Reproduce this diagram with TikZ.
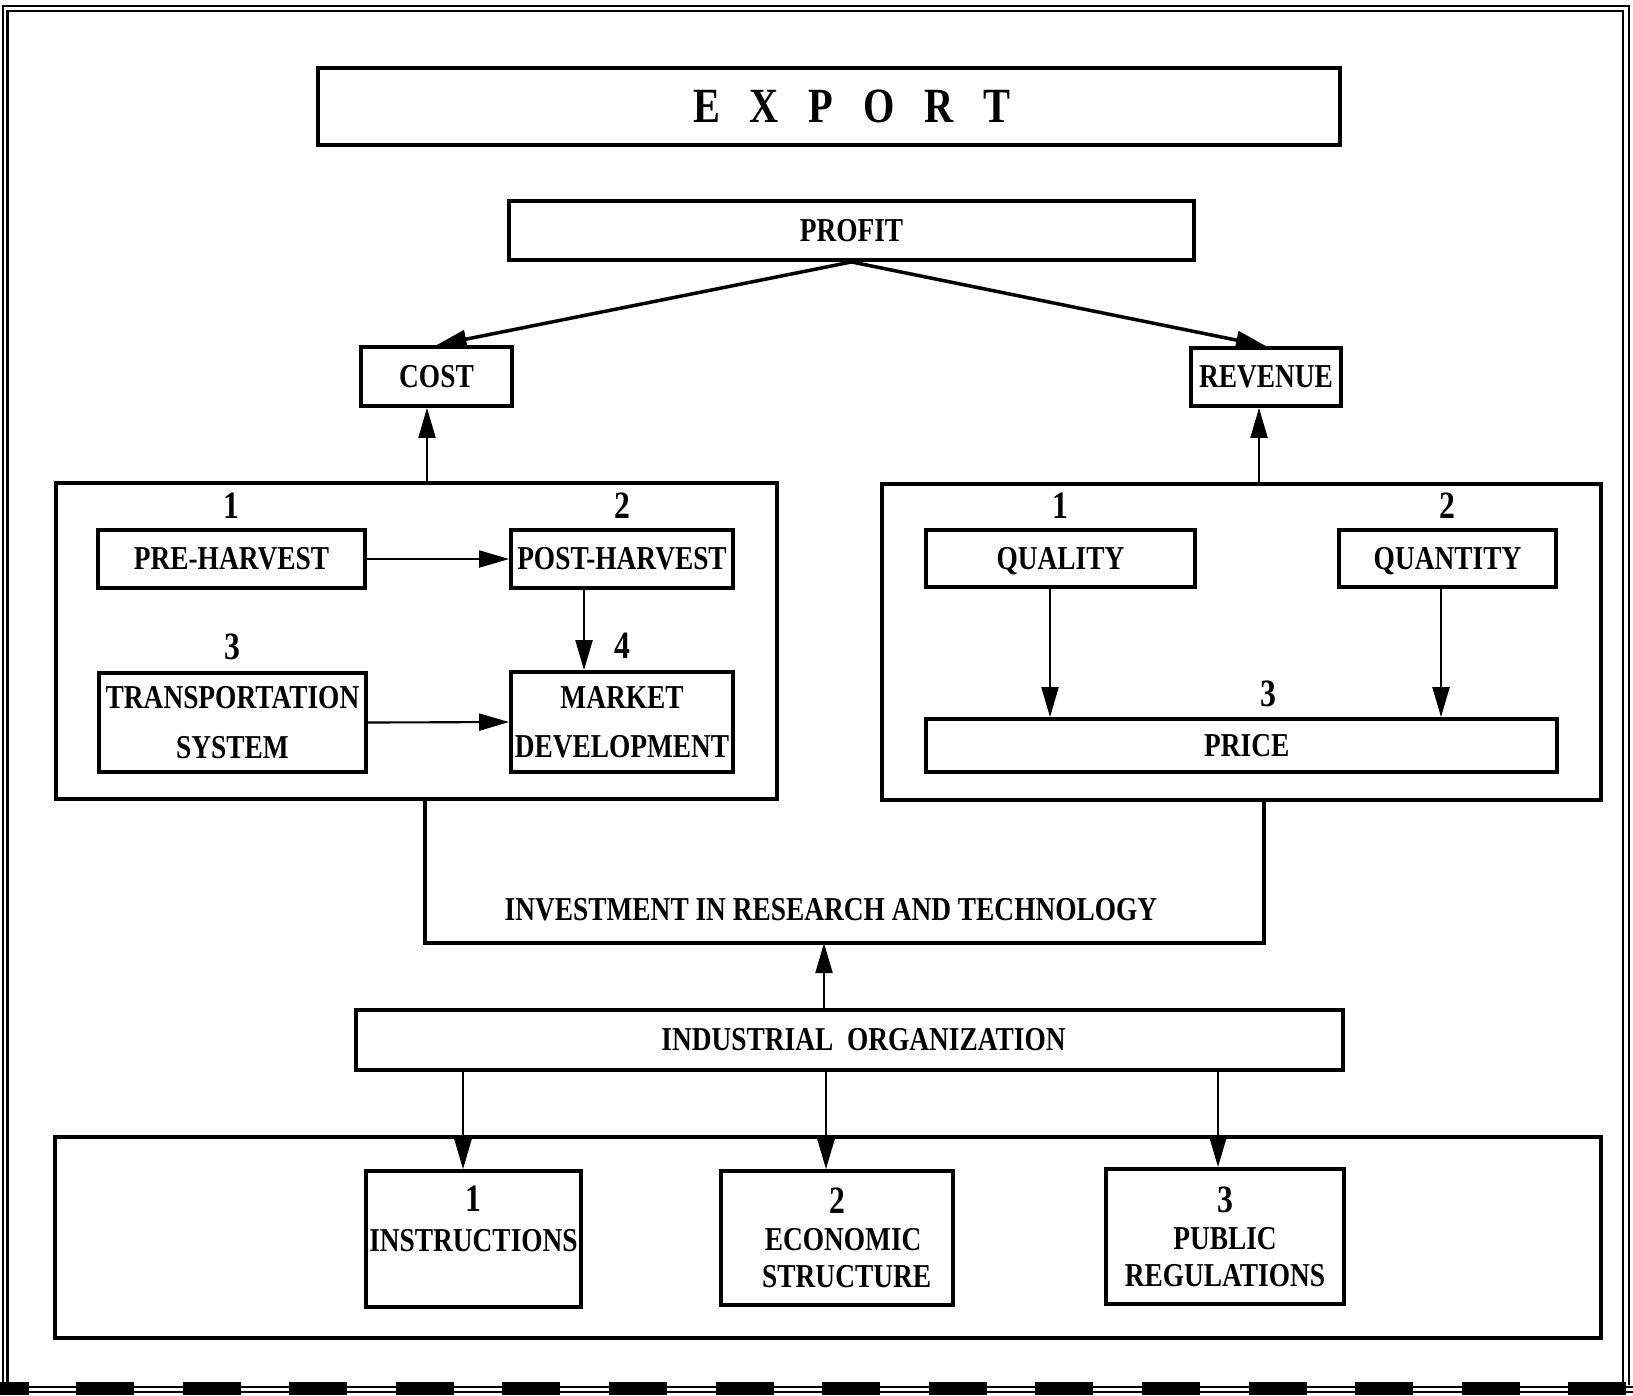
\documentclass[tikz,border=0pt]{standalone}
\usepackage{fontspec}
\setmainfont{Liberation Serif}[FakeStretch=0.82]
\usetikzlibrary{arrows.meta,positioning}
\newcommand{\boxtxt}{\fontsize{9.5}{10.5}\selectfont\bfseries}
\newcommand{\numtxt}{\fontsize{11}{12}\selectfont\bfseries}
\newcommand{\titletxt}{\fontsize{14}{16}\selectfont\bfseries}
\begin{document}
\begin{tikzpicture}[x=0.1mm,y=-0.1mm,
  box/.style={draw=black, line width=1.1pt, inner sep=0pt, align=center, font=\boxtxt},
  num/.style={inner sep=0pt, font=\numtxt},
  arr/.style={line width=0.6pt, -{Triangle[length=3mm,width=1.7mm]}},
  thickarr/.style={line width=1pt, -{Triangle[length=3mm,width=1.8mm]}}]
\useasboundingbox (0,0) rectangle (1633,1395);
\draw [line width=0.6pt] (3,1385) -- (3,6) -- (1629,6) -- (1629,1385);
\draw [line width=0.6pt] (7.5,1385) -- (7.5,11) -- (1623,11) -- (1623,1385);
\draw [line width=0.5pt] (0,1387) -- (1633,1387);
\draw [line width=0.5pt] (0,1392) -- (1633,1392);
\fill (0,1382) rectangle (29,1395);
\fill (76,1382) rectangle (134,1395);
\fill (182.6,1382) rectangle (240.6,1395);
\fill (289.2,1382) rectangle (347.2,1395);
\fill (395.8,1382) rectangle (453.8,1395);
\fill (502.4,1382) rectangle (560.4,1395);
\fill (609,1382) rectangle (667,1395);
\fill (715.6,1382) rectangle (773.6,1395);
\fill (822.2,1382) rectangle (880.2,1395);
\fill (928.8,1382) rectangle (986.8,1395);
\fill (1035.4,1382) rectangle (1093.4,1395);
\fill (1142,1382) rectangle (1200,1395);
\fill (1248.6,1382) rectangle (1306.6,1395);
\fill (1355.2,1382) rectangle (1413.2,1395);
\fill (1461.8,1382) rectangle (1519.8,1395);
\fill (1568.4,1382) rectangle (1626.4,1395);

\node [box, minimum width=102.2mm, minimum height=7.7mm] (export) at (829,106.5)
  {\titletxt\hspace{13pt}E\hspace{8.5pt}X\hspace{8.5pt}P\hspace{8.5pt}O\hspace{8.5pt}R\hspace{8.5pt}T};
\node [box, minimum width=68.5mm, minimum height=5.9mm] (profit) at (851.5,230.5) {PROFIT};
\node [box, minimum width=15.1mm, minimum height=5.9mm] (cost) at (436.5,376.5) {COST};
\node [box, minimum width=15mm, minimum height=5.8mm] (revenue) at (1266,377) {REVENUE};

\node [box, minimum width=72.1mm, minimum height=31.6mm] (costgrp) at (416.5,641) {};
\node [box, minimum width=71.9mm, minimum height=31.6mm] (revgrp) at (1241.5,642) {};

\node [box, minimum width=26.7mm, minimum height=5.8mm] (pre) at (231.5,559) {PRE-HARVEST};
\node [box, minimum width=22.2mm, minimum height=5.8mm] (post) at (622,559) {POST-HARVEST};
\node [box, minimum width=26.7mm, minimum height=9.9mm] (transp) at (232.5,722.5) {TRANSPORTATION\\[3.5pt]SYSTEM};
\node [box, minimum width=22.2mm, minimum height=10mm] (market) at (622,722) {MARKET\\[3.5pt]DEVELOPMENT};
\node [num, above=0.9mm of pre] (pre-n) {1};
\node [num, above=0.9mm of post] (post-n) {2};
\node [num, above=1.1mm of transp] (transp-n) {3};
\node [num, above=1.1mm of market] (market-n) {4};

\node [box, minimum width=26.9mm, minimum height=5.7mm, text depth=0pt] (quality) at (1060.5,558.5) {QUALITY};
\node [box, minimum width=21.7mm, minimum height=5.7mm, text depth=0pt] (quantity) at (1447.5,558.5) {QUANTITY};
\node [box, minimum width=63.1mm, minimum height=5.3mm] (price) at (1241.5,745.5) {\hspace{3pt}PRICE};
\node [num, above=0.9mm of quality] (quality-n) {1};
\node [num, above=0.9mm of quantity] (quantity-n) {2};
\node [num, above=1mm of price, xshift=2.65mm] (price-n) {3};

\coordinate (invL) at (425,943);
\coordinate (invR) at (1264,943);
\coordinate (invB) at (824,943);
\coordinate (pm) at (584,600);
\coordinate (cx) at (427,0);
\coordinate (rx) at (1259,0);
\coordinate (qlx) at (1050,0);
\coordinate (qnx) at (1441,0);
\coordinate (ox1) at (463,0);
\coordinate (ox2) at (826,0);
\coordinate (ox3) at (1218,0);
\node [inner sep=0pt, font=\boxtxt] (invest) at (831,910) {INVESTMENT IN RESEARCH AND TECHNOLOGY};
\draw [line width=1.1pt] (costgrp.south -| invL) -- (invL) -- (invR) -- (revgrp.south -| invR);

\node [box, minimum width=98.7mm, minimum height=6mm] (industrial) at (849.5,1040) {\hspace{8pt}INDUSTRIAL\ \ ORGANIZATION};
\node [box, minimum width=154.6mm, minimum height=20.1mm] (orggrp) at (828,1237.5) {};
\node [box, minimum width=21.5mm, minimum height=13.6mm] (instr) at (473.5,1239) {{\numtxt 1}\\[1pt]INSTRUCTIONS\\[1pt]\mbox{}};
\node [box, minimum width=23.2mm, minimum height=13.4mm] (econ) at (837,1238) {{\numtxt 2}\\[0pt]\hspace{3.5pt}ECONOMIC\\\hspace{5.5pt}STRUCTURE};
\node [box, minimum width=23.8mm, minimum height=13.5mm] (public) at (1225,1236.5) {{\numtxt 3}\\[0pt]PUBLIC\\REGULATIONS};

\draw [thickarr] (profit.south) -- (cost.north);
\draw [thickarr] (profit.south) -- (revenue.north);
\draw [arr] (costgrp.north -| cx) -- (cost.south -| cx);
\draw [arr] (revgrp.north -| rx) -- (revenue.south -| rx);
\draw [arr] (pre.east) -- (post.west);
\draw [arr] (transp.east) -- (market.west);
\draw [arr] (post.south -| pm) -- (market.north -| pm);
\draw [arr] (quality.south -| qlx) -- (price.north -| qlx);
\draw [arr] (quantity.south -| qnx) -- (price.north -| qnx);
\draw [arr] (industrial.north -| invB) -- (invB);
\draw [arr] (industrial.south -| ox1) -- (instr.north -| ox1);
\draw [arr] (industrial.south -| ox2) -- (econ.north -| ox2);
\draw [arr] (industrial.south -| ox3) -- (public.north -| ox3);
\end{tikzpicture}
\end{document}
